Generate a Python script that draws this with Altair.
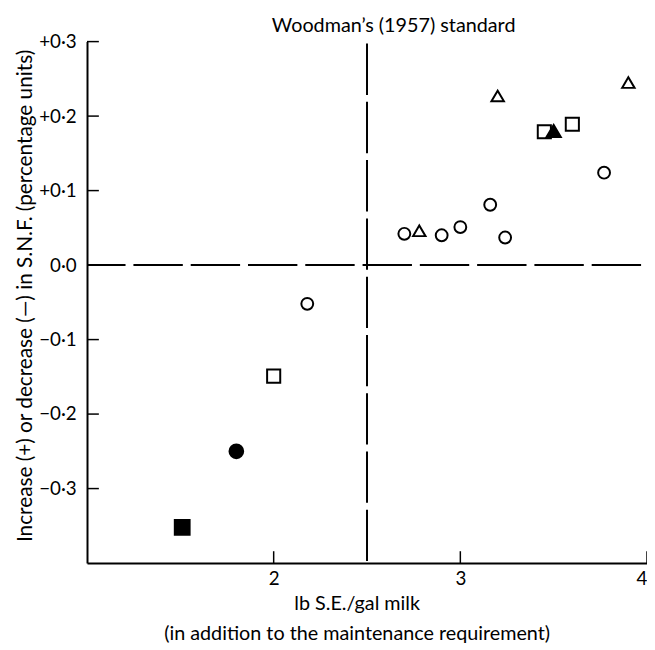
import altair as alt
import pandas as pd

# ---- data ----
x_open_circle = [2.18, 2.70, 2.90, 3.00, 3.16, 3.24, 3.77]
y_open_circle = [-0.052, 0.042, 0.040, 0.051, 0.081, 0.037, 0.124]
x_open_triangle = [2.78, 3.20, 3.90]
y_open_triangle = [0.046, 0.227, 0.245]
x_open_square = [2.00, 3.45, 3.60]
y_open_square = [-0.149, 0.179, 0.189]
x_filled_circle = [1.80]
y_filled_circle = [-0.250]
x_filled_triangle = [3.50]
y_filled_triangle = [0.180]
x_filled_square = [1.51]
y_filled_square = [-0.352]

kinds = ["open circle", "open triangle", "open square",
         "filled circle", "filled triangle", "filled square"]
series = [
    (x_open_circle, y_open_circle),
    (x_open_triangle, y_open_triangle),
    (x_open_square, y_open_square),
    (x_filled_circle, y_filled_circle),
    (x_filled_triangle, y_filled_triangle),
    (x_filled_square, y_filled_square),
]
y_tick_values = [-0.3, -0.2, -0.1, 0.0, 0.1, 0.2, 0.3]
x_tick_values = [2, 3, 4]
standard_x = 2.5
zero_y = 0.0
title_text = "Woodman\u2019s (1957) standard"

rows = []
for k, (xs, ys) in zip(kinds, series):
    for xv, yv in zip(xs, ys):
        rows.append({"x": xv, "y": yv, "kind": k})
df = pd.DataFrame(rows)

FONT = "Lato"
W, H = 567, 528
xscale = alt.Scale(domain=[1, 4], nice=False, zero=False)
yscale = alt.Scale(domain=[-0.4, 0.3], nice=False, zero=False)

tri = "M-1,0.85L0,-0.85L1,0.85Z"

points = alt.Chart(df).mark_point(filled=True, stroke="black", strokeWidth=2, opacity=1).encode(
    x=alt.X("x:Q", scale=xscale, axis=alt.Axis(
        values=x_tick_values, format="d", ticks=False, grid=False,
        domainColor="black", domainWidth=2, labelPadding=7,
        labelFont=FONT, labelFontSize=19, labelColor="black",
        title=["lb S.E./gal milk", "(in addition to the maintenance requirement)"],
        titleFont=FONT, titleFontSize=20, titleFontWeight="normal", titleColor="black",
        titleX=273, titleY=47, titleAlign="center", titleBaseline="alphabetic",
        titleLineHeight=30, titleAnchor="middle")),
    y=alt.Y("y:Q", scale=yscale, axis=alt.Axis(
        values=y_tick_values, ticks=False, grid=False,
        domainColor="black", domainWidth=2, labelPadding=11,
        labelFont=FONT, labelFontSize=19, labelColor="black",
        labelExpr="(datum.value > 0.001 ? '+' : (datum.value < -0.001 ? '\u2212' : '')) + replace(format(abs(datum.value), '.1f'), '.', '\u00b7')",
        title="Increase (+) or decrease (\u2014) in S.N.F. (percentage units)",
        titleFont=FONT, titleFontSize=21, titleFontWeight="normal", titleColor="black",
        titleX=-56, titleY=257, titleAlign="center", titleBaseline="alphabetic",
        titleAngle=270)),
    shape=alt.Shape("kind:N", scale=alt.Scale(domain=kinds, range=["circle", tri, "square", "circle", tri, "square"]), legend=None),
    fill=alt.Fill("kind:N", scale=alt.Scale(domain=kinds, range=["white", "white", "white", "black", "black", "black"]), legend=None),
    size=alt.Size("kind:O", scale=alt.Scale(domain=kinds, range=[144, 225, 196, 144, 225, 216]), legend=None),
)

hline = alt.Chart(pd.DataFrame({"y": [zero_y]})).mark_rule(
    color="black", strokeWidth=2, strokeDash=[50, 8], strokeDashOffset=11
).encode(y=alt.Y("y:Q", scale=yscale), x=alt.value(0), x2=alt.value(W))

vline = alt.Chart(pd.DataFrame({"x": [standard_x]})).mark_rule(
    color="black", strokeWidth=2, strokeDash=[52, 7]
).encode(x=alt.X("x:Q", scale=xscale), y=alt.value(2), y2=alt.value(H))

title_mark = alt.Chart(pd.DataFrame({"x": [standard_x], "t": [title_text]})).mark_text(
    font=FONT, fontSize=20, color="black", baseline="alphabetic", align="center", dx=27
).encode(x=alt.X("x:Q", scale=xscale), y=alt.value(-10), text="t:N")

yticks = alt.Chart(pd.DataFrame({"y": y_tick_values})).mark_rule(
    color="black", strokeWidth=1.5
).encode(y=alt.Y("y:Q", scale=yscale), x=alt.value(0), x2=alt.value(12))

xticks = alt.Chart(pd.DataFrame({"x": x_tick_values})).mark_rule(
    color="black", strokeWidth=1.5
).encode(x=alt.X("x:Q", scale=xscale), y=alt.value(H), y2=alt.value(H - 12))

chart = alt.layer(hline, vline, yticks, xticks, title_mark, points).properties(
    width=W, height=H,
    autosize=alt.AutoSizeParams(type="none"),
    padding={"left": 80, "top": 30, "right": 0, "bottom": 84},
    background="white",
).configure_view(stroke=None)

chart.save("out.html", embed_options={"renderer": "svg", "actions": False})
